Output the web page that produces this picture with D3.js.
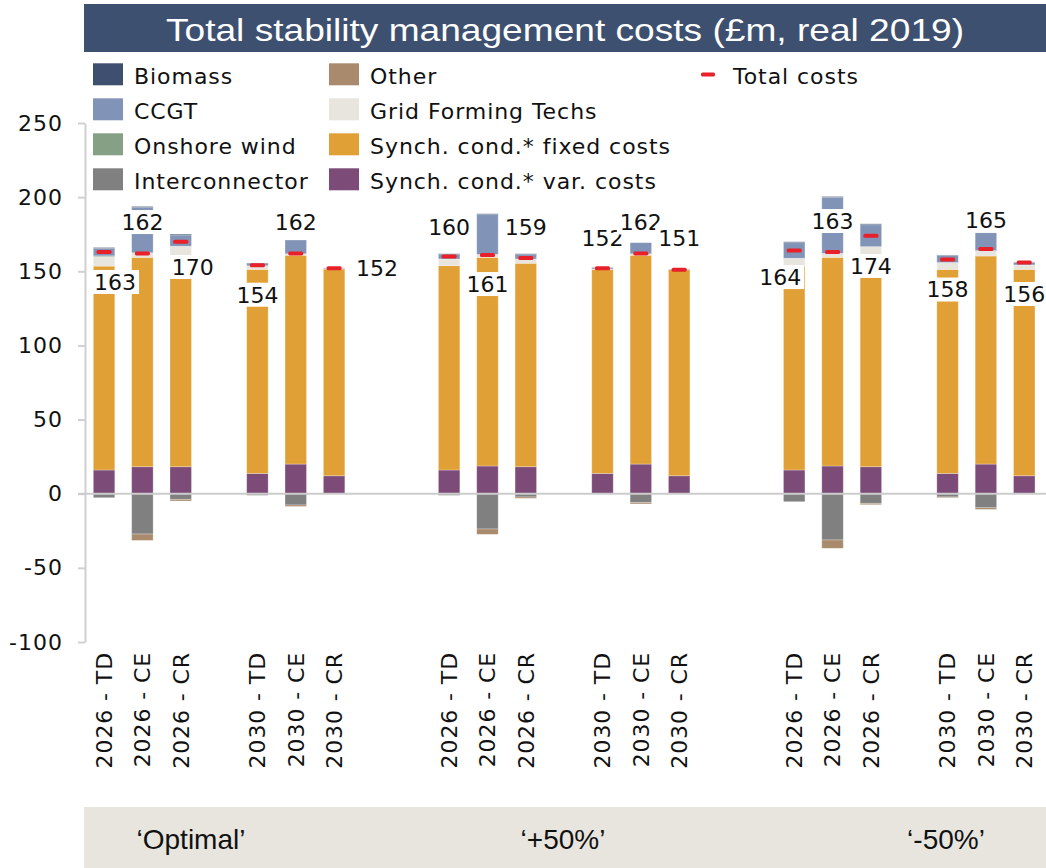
<!DOCTYPE html>
<html>
<head>
<meta charset="utf-8">
<script src="https://cdn.jsdelivr.net/npm/d3@7"></script>
<style>
  body { margin: 0; background: #fff; }
  text { font-family: "DejaVu Sans", Verdana, sans-serif; }
</style>
</head>
<body>
<svg id="chart" width="1046" height="868"></svg>
<script>
// DATA (£m, real 2019), one value per bar, in bar order
const scenarios = ["‘Optimal’", "‘+50%’", "‘-50%’"];
const cases = ["2026 - TD", "2026 - CE", "2026 - CR", "2030 - TD", "2030 - CE", "2030 - CR"];

const synchVar   = [16.0, 18.2, 18.2, 13.7, 20.0, 12.1, 16.0, 18.7, 18.2, 13.7, 20.0, 12.1, 16.0, 18.7, 18.2, 13.7, 20.0, 12.1];
const synchFixed = [137.5, 141.2, 137.2, 137.6, 140.8, 139.4, 137.8, 140.7, 137.2, 137.6, 140.8, 139.0, 137.7, 140.7, 137.2, 137.6, 140.3, 139.2];
const gridForming = [6.3, 3.1, 11.5, 2.4, 1.0, 0.3, 4.5, 2.0, 2.9, 0.3, 1.0, 0.2, 5.1, 2.7, 11.2, 4.6, 3.6, 3.0];
const onshoreWind = [0.6, 0, 0, 0, 0, 0, 0, 0, 0, 0, 0, 0, 0, 0, 0, 0, 0, 0];
const ccgt       = [5.0, 30.5, 7.6, 1.5, 9.3, 0.5, 2.9, 26.8, 2.9, 1.0, 7.5, 0.3, 10.5, 37.7, 14.8, 4.8, 12.1, 1.8];
const biomass    = [0.6, 0.7, 0.6, 0.4, 0, 0, 0.6, 0.6, 0.6, 0, 0, 0, 0.6, 0.6, 0.6, 0.3, 0, 0];
const interconnector = [-2.7, -27.2, -3.8, -1.1, -7.6, 0, -1.1, -23.8, -2.2, 0, -6.0, 0, -5.4, -31.2, -6.5, -2.2, -9.5, 0];
const other      = [0, -4.3, -1.1, 0, -1.0, 0, 0, -3.6, -0.9, 0, -0.9, 0, 0, -5.6, -0.9, -0.5, -1.1, 0];
const totalCosts = [163, 162, 170, 154, 162, 152, 160, 161, 159, 152, 162, 151, 164, 163, 174, 158, 165, 156];

const yTicks = [-100, -50, 0, 50, 100, 150, 200, 250];

// label placement (value units for height, px nudge sideways) - layout only
const labelAt = [142.8, 183.2, 152.9, 134.2, 182.9, 152.2, 179.9, 141.4, 179.9, 172.4, 182.9, 172.4, 146.1, 183.9, 153.6, 137.7, 184.2, 134.7];
const labelDx = [11, 0, 12, 0, 0, 43, 0, 0, 0, 0, 0, 0, -14, 0, 0, 0, 0, 0];

// SERIES: stacking order from zero outwards
const series = [
  { key: "var",     name: "Synch. cond.* var. costs",   color: "#7d4b78", values: synchVar },
  { key: "fixed",   name: "Synch. cond.* fixed costs",  color: "#e1a035", values: synchFixed },
  { key: "gf",      name: "Grid Forming Techs",         color: "#e8e5df", values: gridForming },
  { key: "wind",    name: "Onshore wind",               color: "#86a086", values: onshoreWind },
  { key: "ccgt",    name: "CCGT",                       color: "#8193b6", values: ccgt },
  { key: "biomass", name: "Biomass",                    color: "#3f4f70", values: biomass },
  { key: "ic",      name: "Interconnector",             color: "#808080", values: interconnector },
  { key: "other",   name: "Other",                      color: "#a98a6c", values: other }
];

// SETUP
const svg = d3.select("#chart");
const W = 1046, H = 868;

// slots incl. empty gaps between years and scenarios
const slots = [];
const rows = [];
scenarios.forEach((s, i) => {
  cases.forEach((c, j) => {
    const key = i + "|" + c;
    slots.push(key);
    const idx = i * cases.length + j;
    const row = { key: key, label: c, total: totalCosts[idx], idx: idx };
    series.forEach(se => row[se.key] = se.values[idx]);
    rows.push(row);
    if (j === 2) slots.push(i + "|gap");
  });
  if (i < scenarios.length - 1) { slots.push(i + "|gapA"); slots.push(i + "|gapB"); }
});

const x = d3.scaleBand()
  .domain(slots)
  .range([85, 1043.3])
  .paddingInner(0.44)
  .paddingOuter(0.217);

const y = d3.scaleLinear()
  .domain([-100, 250])
  .range([642, 123]);

// TITLE
svg.append("rect")
  .attr("x", 84).attr("y", 4).attr("width", W - 84).attr("height", 48)
  .attr("fill", "#3e5070");
svg.append("text")
  .attr("x", 565).attr("y", 41)
  .attr("text-anchor", "middle")
  .style("font-family", "'Liberation Sans', Arial, sans-serif")
  .style("font-size", "32px")
  .attr("fill", "#fff")
  .attr("textLength", 798)
  .attr("lengthAdjust", "spacingAndGlyphs")
  .text("Total stability management costs (£m, real 2019)");

// Y AXIS
const yAxis = svg.append("g")
  .attr("transform", "translate(85,0)")
  .call(d3.axisLeft(y).tickValues(yTicks).tickFormat(d => String(d))
    .tickSize(7).tickSizeOuter(0).tickPadding(15));
yAxis.select(".domain").attr("stroke", "#d0d0d0").attr("stroke-width", 2);
yAxis.selectAll(".tick line").attr("stroke", "#d0d0d0").attr("stroke-width", 2);
yAxis.selectAll(".tick text")
  .style("font-family", "'DejaVu Sans', Verdana, sans-serif")
  .style("font-size", "22px")
  .style("letter-spacing", "1px")
  .attr("fill", "#111");

// STACKED BARS
const stacked = d3.stack()
  .keys(series.map(d => d.key))
  .offset(d3.stackOffsetDiverging)(rows);

svg.append("g").selectAll("g")
  .data(stacked)
  .join("g")
  .attr("fill", (d, i) => series[i].color)
  .selectAll("rect")
  .data(d => d.filter(p => p[1] - p[0] !== 0))
  .join("rect")
  .attr("x", d => x(d.data.key))
  .attr("width", x.bandwidth())
  .attr("y", d => y(Math.max(d[0], d[1])))
  .attr("height", d => Math.abs(y(d[0]) - y(d[1])))
  .attr("stroke", "#fff")
  .attr("stroke-opacity", 0.35)
  .attr("stroke-width", 0.8);

// zero line
svg.append("line")
  .attr("x1", 78).attr("x2", W)
  .attr("y1", y(0)).attr("y2", y(0))
  .attr("stroke", "#cccccc").attr("stroke-width", 2);

// TOTAL MARKERS
svg.append("g").selectAll("rect")
  .data(rows)
  .join("rect")
  .attr("x", d => x(d.key) + x.bandwidth() / 2 - 7.5)
  .attr("y", d => y(d.total) - 2)
  .attr("width", 15).attr("height", 4)
  .attr("rx", 1.5)
  .attr("fill", "#e8202a");

// DATA LABELS (white boxes)
const lab = svg.append("g").selectAll("g")
  .data(rows)
  .join("g")
  .attr("transform", d => `translate(${x(d.key) + x.bandwidth() / 2 + labelDx[d.idx]},${y(labelAt[d.idx])})`);
lab.append("rect").attr("fill", "#fff");
lab.append("text")
  .attr("text-anchor", "middle")
  .attr("dy", "0.36em")
  .style("font-size", "22px")
  .attr("fill", "#111")
  .text(d => d.total);
lab.each(function () {
  const t = d3.select(this).select("text").node().getBBox();
  d3.select(this).select("rect")
    .attr("x", t.x - 3).attr("width", t.width + 6)
    .attr("y", -12).attr("height", 24);
});

// X LABELS (rotated)
svg.append("g").selectAll("text")
  .data(rows)
  .join("text")
  .attr("transform", d => `translate(${x(d.key) + x.bandwidth() / 2},652) rotate(-90)`)
  .attr("text-anchor", "end")
  .attr("dy", "0.36em")
  .style("font-size", "22px")
  .style("letter-spacing", "0.9px")
  .attr("fill", "#111")
  .text(d => d.label);

// LEGEND
const legendCols = [
  ["biomass", "ccgt", "wind", "ic"],
  ["other", "gf", "fixed", "var"]
];
const colX = [93, 329];
legendCols.forEach((col, ci) => {
  col.forEach((k, ri) => {
    const s = series.find(d => d.key === k);
    const cy = 74.3 + ri * 35;
    svg.append("rect")
      .attr("x", colX[ci]).attr("y", cy - 11)
      .attr("width", 30).attr("height", 22)
      .attr("fill", s.color);
    svg.append("text")
      .attr("x", colX[ci] + 41).attr("y", cy + 9.5)
      .style("font-size", "22px")
      .style("letter-spacing", "0.95px")
      .attr("fill", "#111")
      .text(s.name);
  });
});
svg.append("rect")
  .attr("x", 701).attr("y", 72.5).attr("width", 14).attr("height", 4).attr("rx", 1.5)
  .attr("fill", "#e8202a");
svg.append("text")
  .attr("x", 733).attr("y", 83.8)
  .style("font-size", "22px")
  .style("letter-spacing", "0.95px")
  .attr("fill", "#111")
  .text("Total costs");

// SCENARIO BAND
svg.append("rect")
  .attr("x", 84).attr("y", 807).attr("width", W - 84).attr("height", H - 807)
  .attr("fill", "#e8e5df");
const bandX = [191, 563, 946];
svg.append("g").selectAll("text")
  .data(scenarios)
  .join("text")
  .attr("x", (d, i) => bandX[i])
  .attr("y", 849)
  .attr("text-anchor", "middle")
  .style("font-family", "'Liberation Sans', Arial, sans-serif")
  .style("font-size", "28px")
  .attr("fill", "#111")
  .text(d => d);
</script>
</body>
</html>
